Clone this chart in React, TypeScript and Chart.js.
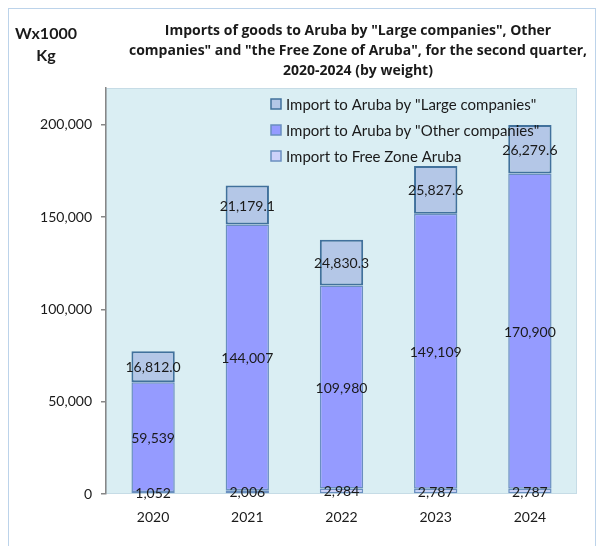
import React, { useEffect, useRef } from "react";
import { Chart, registerables } from "chart.js";

Chart.register(...registerables);

const years = ["2020", "2021", "2022", "2023", "2024"];
const freeZone = [1052, 2006, 2984, 2787, 2787];
const otherCompanies = [59539, 144007, 109980, 149109, 170900];
const largeCompanies = [16812.0, 21179.1, 24830.3, 25827.6, 26279.6];
const yTickValues = [0, 50000, 100000, 150000, 200000];
const yMax = 220000;

const seriesLabels = [
  "Import to Free Zone Aruba",
  'Import to Aruba by "Other companies"',
  'Import to Aruba by "Large companies"',
];
const titleLines = [
  'Imports of goods to Aruba by "Large companies", Other',
  'companies" and "the Free Zone of Aruba", for the second quarter,',
  "2020-2024 (by weight)",
];
const unitLines = ["Wx1000", "Kg"];

const FONT = "Lato, 'Open Sans', sans-serif";
const TITLE_FONT = "'Open Sans', Lato, sans-serif";
const TEXT = "#1a1a1a";

const fmtInt = (v: number) =>
  v.toLocaleString("en-US", { maximumFractionDigits: 0 });
const fmtDec = (v: number) =>
  v.toLocaleString("en-US", { minimumFractionDigits: 1, maximumFractionDigits: 1 });

const bgPlugin = {
  id: "plotBg",
  beforeDraw(chart: any) {
    const { ctx, chartArea } = chart;
    ctx.save();
    ctx.fillStyle = "#daeef3";
    ctx.fillRect(chartArea.left, chartArea.top, chartArea.right - chartArea.left, chartArea.bottom - chartArea.top);
    ctx.strokeStyle = "#c6dce6";
    ctx.lineWidth = 1;
    ctx.strokeRect(chartArea.left + 0.5, chartArea.top + 0.5, chartArea.right - chartArea.left - 1, chartArea.bottom - chartArea.top - 1);
    ctx.restore();
  },
};

const labelsPlugin = {
  id: "valueLabels",
  afterDatasetsDraw(chart: any) {
    const { ctx } = chart;
    ctx.save();
    ctx.font = `14px ${FONT}`;
    ctx.fillStyle = TEXT;
    ctx.textAlign = "center";
    ctx.textBaseline = "middle";
    chart.data.datasets.forEach((ds: any, di: number) => {
      const meta = chart.getDatasetMeta(di);
      meta.data.forEach((el: any, i: number) => {
        const v = ds.data[i];
        const txt = ds.decimals ? fmtDec(v) : fmtInt(v);
        const y = (el.y + el.base) / 2;
        ctx.fillText(txt, el.x, y + 1);
      });
    });
    ctx.restore();
  },
};

const textPlugin = {
  id: "titleAndLegend",
  afterDraw(chart: any) {
    const { ctx, chartArea } = chart;
    ctx.save();
    // title
    ctx.fillStyle = TEXT;
    ctx.textAlign = "center";
    ctx.textBaseline = "middle";
    ctx.font = `bold 14px ${TITLE_FONT}`;
    titleLines.forEach((l, i) => ctx.fillText(l, 358, 31 + i * 20));
    // unit
    ctx.font = `bold 16px ${FONT}`;
    unitLines.forEach((l, i) => ctx.fillText(l, 46, 34 + i * 22));
    // legend
    const dsList = chart.data.datasets.slice().reverse();
    ctx.font = `15px ${FONT}`;
    ctx.textAlign = "left";
    const lx = chartArea.left + 165;
    dsList.forEach((ds: any, i: number) => {
      const cy = chartArea.top + 16 + i * 26;
      ctx.fillStyle = ds.backgroundColor;
      ctx.fillRect(lx, cy - 5, 10, 10);
      ctx.strokeStyle = ds.borderColor;
      ctx.lineWidth = 1.5;
      ctx.strokeRect(lx, cy - 5, 10, 10);
      ctx.fillStyle = TEXT;
      ctx.fillText(ds.label, lx + 15, cy + 1);
    });
    ctx.restore();
  },
};

export default function App() {
  const ref = useRef<HTMLCanvasElement | null>(null);
  useEffect(() => {
    if (!ref.current) return;
    const chart = new Chart(ref.current, {
      type: "bar",
      data: {
        labels: years,
        datasets: [
          {
            label: seriesLabels[0],
            data: freeZone,
            backgroundColor: "#cdd1fa",
            borderColor: "#6a8fc0",
            borderWidth: 1.5,
            borderSkipped: false,
          } as any,
          {
            label: seriesLabels[1],
            data: otherCompanies,
            backgroundColor: "#959bff",
            borderColor: "#6a8fc0",
            borderWidth: 1.5,
            borderSkipped: false,
          },
          {
            label: seriesLabels[2],
            data: largeCompanies,
            backgroundColor: "#b4c7e7",
            borderColor: "#41719c",
            borderWidth: 2,
            borderSkipped: false,
            decimals: true,
          },
        ],
      },
      options: {
        responsive: false,
        animation: false,
        devicePixelRatio: 1,
        layout: { padding: { left: 0, top: 88, right: 22, bottom: 0 } },
        datasets: { bar: { categoryPercentage: 1, barPercentage: 0.46 } },
        plugins: { legend: { display: false }, title: { display: false }, tooltip: { enabled: false } },
        scales: {
          x: {
            stacked: true,
            grid: { display: false, drawTicks: false },
            border: { display: false },
            afterFit: (s: any) => { s.height = 52; },
            ticks: { padding: 15, color: TEXT, font: { family: FONT, size: 14 } },
          },
          y: {
            stacked: true,
            min: 0,
            max: yMax,
            afterBuildTicks: (axis: any) => {
              axis.ticks = yTickValues.map((v) => ({ value: v }));
            },
            afterFit: (s: any) => { s.width = 106; },
            grid: { drawOnChartArea: false, drawTicks: true, tickLength: 5, color: "#878787", lineWidth: 1.5 },
            border: { color: "#878787", width: 1.5 },
            ticks: {
              padding: 9,
              color: TEXT,
              font: { family: FONT, size: 14 },
              callback: (v: any) => fmtInt(Number(v)),
            },
          },
        },
      } as any,
      plugins: [bgPlugin, labelsPlugin, textPlugin],
    });
    return () => chart.destroy();
  }, []);

  return (
    <div style={{ position: "fixed", left: 0, top: 0, width: 599, height: 546, overflow: "hidden", background: "#fff" }}>
      <div style={{ position: "absolute", left: 8, top: 8, width: 588, height: 600, border: "1px solid #bcd3ea", boxSizing: "border-box" }} />
      <canvas ref={ref} width={599} height={546} style={{ position: "absolute", left: 0, top: 0, width: 599, height: 546 }} />
    </div>
  );
}
